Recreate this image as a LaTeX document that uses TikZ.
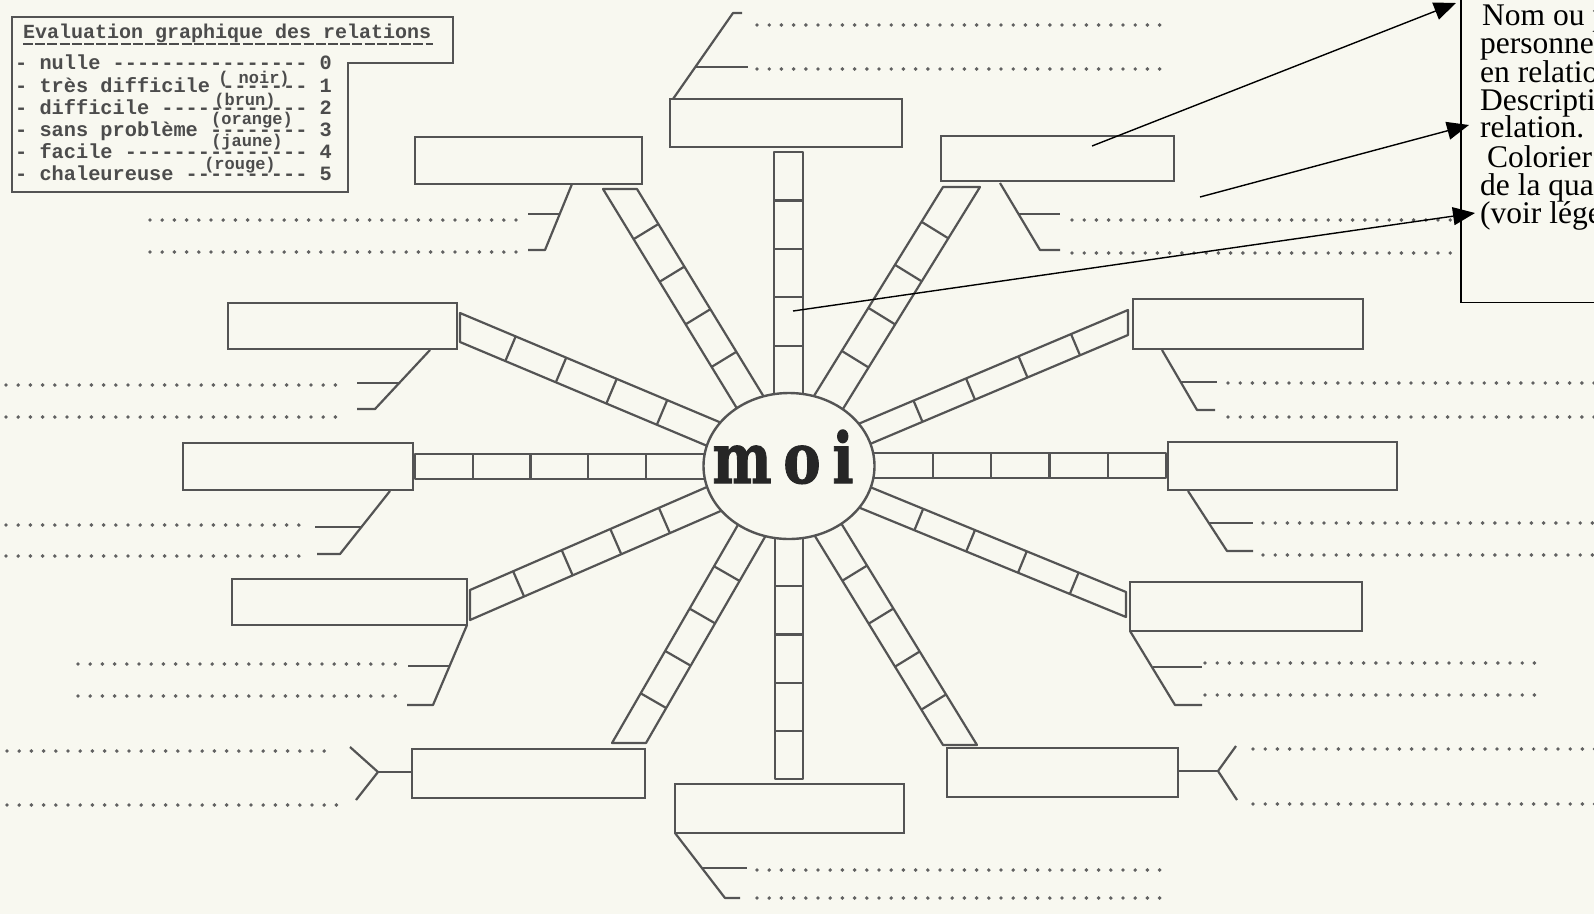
\documentclass[tikz,border=0pt]{standalone}
\usepackage{fontspec}
\setmainfont{Liberation Serif}
\setmonofont{Liberation Mono}
\newfontfamily\moifont{DejaVu Serif}[BoldFont={DejaVu Serif Bold}, BoldFeatures={FakeBold=1.6}]
\usepackage{graphicx}
\usetikzlibrary{calc,arrows.meta,shapes.geometric}
\definecolor{bg}{HTML}{F8F8F0}
\definecolor{ink}{HTML}{545454}
\definecolor{dotc}{HTML}{616161}
\definecolor{tw}{HTML}{4C4C4C}
\tikzset{
 ln/.style={draw=ink, line width=2.2pt, line join=round},
 box/.style={draw=ink, line width=2.2pt, fill=bg, rectangle, inner sep=0pt, outer sep=0pt},
 dotrow/.style={draw=dotc, line width=3.9pt, line cap=round, dash pattern=on 0pt off 12.2pt},
 callarrow/.style={draw=black, line width=1.4pt, -{Triangle[length=22pt,width=18pt]}},
 twline/.style={anchor=base west, inner sep=0pt, text=tw, font=\ttfamily\bfseries\fontsize{20.3}{22}\selectfont},
 twlabel/.style={anchor=base, inner sep=0pt, text=tw, font=\ttfamily\bfseries\fontsize{17}{18}\selectfont},
 notetext/.style={anchor=base west, inner sep=0pt, text=black, font=\fontsize{31.5}{28}\selectfont},
 moiletter/.style={anchor=base, inner sep=0pt, text=black!85, font=\moifont\bfseries\fontsize{70}{72}\selectfont},
}
% #1 name, #2 corner A, #3 corner B, #4 direction, #5 cell length, #6 line length
\newcommand\ladder[6]{%
  \coordinate (#1a) at #2; \coordinate (#1b) at #3;
  \coordinate (#1a2) at ($(#1a)+(#4:#6)$);
  \coordinate (#1b2) at ($(#1b)+(#4:#6)$);
  \draw[ln] (#1a2) -- (#1a) -- (#1b) -- (#1b2);
  \foreach \k in {1,2,3,4}{
    \coordinate (#1p) at ($(#1a)!0.5!(#1b)+(#4:{\k*#5})$);
    \draw[ln] ($(#1a)!(#1p)!(#1a2)$) -- ($(#1b)!(#1p)!(#1b2)$);
  }%
}
\newcommand\rbox[5]{\node[box, minimum width={(#4)-(#2)}, minimum height={(#5)-(#3)}] (#1) at ({((#2)+(#4))/2},{((#3)+(#5))/2}) {};}
\begin{document}
\begin{tikzpicture}[x=1pt,y=-1pt]
\useasboundingbox (0,0) rectangle (1594,914);
\fill[bg] (0,0) rectangle (1594,914);
\clip (0,0) rectangle (1594,914);

% spokes
\ladder{U}{(774,152)}{(803,152)}{90}{48.4}{290}
\ladder{D}{(775,779)}{(803,779)}{-90}{48.2}{290}
\ladder{ULs}{(603,189)}{(637,189)}{58.6}{49.9}{300}
\ladder{URs}{(943,187)}{(980,187)}{121.7}{50.6}{300}
\ladder{LLs}{(612,743)}{(646,743)}{-60}{48.9}{300}
\ladder{LRs}{(943,745)}{(977,745)}{-121.5}{50.4}{300}
\ladder{LUs}{(460,313)}{(460,342)}{22.8}{54.8}{330}
\ladder{HLs}{(415,454)}{(415,479)}{0}{57.7}{350}
\ladder{LDs}{(470,590)}{(470,620)}{-23.5}{53}{320}
\ladder{RUs}{(1128,310)}{(1128,335)}{157.1}{57}{340}
\ladder{HRs}{(1166,453)}{(1166,478)}{180}{58.3}{350}
\ladder{RDs}{(1126,592)}{(1126,617)}{-157.7}{56}{340}

% centre
\node[ellipse, draw=ink, line width=2.4pt, fill=bg, minimum width=171, minimum height=146, inner sep=0pt] (moi) at (789,466) {};
\node[moiletter] (mm) at (742,483) {\scalebox{0.8}[1]{m}};
\node[moiletter] (mo) at (802,483) {\scalebox{0.8}[1]{o}};
\node[moiletter] (mi) at (843,483) {\scalebox{0.8}[1]{i}};

% boxes
\rbox{bT}{670}{99}{902}{147}
\rbox{bUL}{415}{137}{642}{184}
\rbox{bUR}{941}{136}{1174}{181}
\rbox{bLU}{228}{303}{457}{349}
\rbox{bRU}{1133}{299}{1363}{349}
\rbox{bHL}{183}{443}{413}{490}
\rbox{bHR}{1168}{442}{1397}{490}
\rbox{bLD}{232}{579}{467}{625}
\rbox{bRD}{1130}{582}{1362}{631}
\rbox{bLL}{412}{749}{645}{798}
\rbox{bLR}{947}{748}{1178}{797}
\rbox{bD}{675}{784}{904}{833}

% brackets
\draw[ln] (673,99) -- (733,13) -- (742,13); \draw[ln] (695,67) -- (748,67);
\draw[ln] (1000,183) -- (1040,250) -- (1060,250); \draw[ln] (1019,214) -- (1060,214);
\draw[ln] (572,184) -- (545,250) -- (528,250); \draw[ln] (560,214) -- (528,214);
\draw[ln] (430,350) -- (375,409) -- (357,409); \draw[ln] (399,383) -- (357,383);
\draw[ln] (390,491) -- (340,554) -- (317,554); \draw[ln] (361,527) -- (315,527);
\draw[ln] (467,625) -- (433,705) -- (407,705); \draw[ln] (450,666) -- (408,666);
\draw[ln] (412,772) -- (378,772); \draw[ln] (350,747) -- (378,772) -- (356,800);
\draw[ln] (675,833) -- (725,898) -- (740,898); \draw[ln] (702,868) -- (747,868);
\draw[ln] (1178,771) -- (1218,771); \draw[ln] (1236,746) -- (1218,771) -- (1237,800);
\draw[ln] (1162,350) -- (1197,410) -- (1215,410); \draw[ln] (1181,382) -- (1217,382);
\draw[ln] (1188,491) -- (1227,551) -- (1253,551); \draw[ln] (1209,523) -- (1253,523);
\draw[ln] (1130,631) -- (1175,705) -- (1202,705); \draw[ln] (1153,667) -- (1202,667);

% dotted writing lines
\draw[dotrow] (757,25) -- (1160,25); \draw[dotrow] (757,69) -- (1160,69);
\draw[dotrow] (1072,220) -- (1456,220); \draw[dotrow] (1072,253) -- (1456,253);
\draw[dotrow] (150,220) -- (518,220); \draw[dotrow] (150,252) -- (518,252);
\draw[dotrow] (6,385) -- (346,385); \draw[dotrow] (6,417) -- (346,417);
\draw[dotrow] (6,525) -- (302,525); \draw[dotrow] (6,556) -- (302,556);
\draw[dotrow] (78,664) -- (397,664); \draw[dotrow] (78,696) -- (397,696);
\draw[dotrow] (7,751) -- (333,751); \draw[dotrow] (7,805) -- (348,805);
\draw[dotrow] (757,870) -- (1165,870); \draw[dotrow] (757,898) -- (1165,898);
\draw[dotrow] (1253,749) -- (1600,749); \draw[dotrow] (1253,804) -- (1600,804);
\draw[dotrow] (1228,383) -- (1600,383); \draw[dotrow] (1228,417) -- (1600,417);
\draw[dotrow] (1263,523) -- (1600,523); \draw[dotrow] (1263,555) -- (1600,555);
\draw[dotrow] (1205,663) -- (1535,663); \draw[dotrow] (1205,695) -- (1535,695);

% legend
\draw[draw=ink, line width=2.5pt, line join=miter] (12,17) -- (453,17) -- (453,63) -- (348,63) -- (348,192) -- (12,192) -- cycle;
\node[twline, font=\ttfamily\bfseries\fontsize{20}{22}\selectfont] (title) at (23,38) {Evaluation graphique des relations};
\coordinate (ula) at (23,44); \coordinate (ulb) at (433,44);
\draw[draw=tw, line width=1.8pt, dash pattern=on 10pt off 2.2pt] (ula) -- (ulb);
\node[twline] (l0) at (15,69) {- nulle ---------------- 0};
\node[twline] (l1) at (15,92) {- très difficile ------- 1};
\node[twline] (l2) at (15,114) {- difficile ------------ 2};
\node[twline] (l3) at (15,136) {- sans problème -------- 3};
\node[twline] (l4) at (15,158) {- facile --------------- 4};
\node[twline] (l5) at (15,180) {- chaleureuse ---------- 5};
\node[twlabel] (c0) at (254,83) {( noir)};
\node[twlabel] (c1) at (245,105) {(brun)};
\node[twlabel] (c2) at (252,124) {(orange)};
\node[twlabel] (c3) at (247,146) {(jaune)};
\node[twlabel] (c4) at (240,169) {(rouge)};

% callout box
\node[draw=black, line width=1.5pt, fill=bg, minimum width=220, minimum height=330, inner sep=0pt, anchor=south west] (note) at (1460,303) {};
\node[notetext] (n1) at (1482,25) {Nom ou prénom};
\node[notetext] (n2) at (1480,53) {personne};
\node[notetext] (n3) at (1480,82) {en relation};
\node[notetext] (n4) at (1480,110) {Description};
\node[notetext] (n5) at (1480,137) {relation.};
\node[notetext] (n6) at (1487,167) {Colorier};
\node[notetext] (n7) at (1480,195) {de la qualité};
\node[notetext] (n8) at (1480,223) {(voir légende)};

% arrows
\coordinate (a1s) at (1092,146); \coordinate (a1t) at (1456,3);
\coordinate (a2s) at (1200,197); \coordinate (a2t) at (1469,125);
\coordinate (a3s) at (793,311); \coordinate (a3t) at (1475,213);
\draw[callarrow] (a1s) -- (a1t);
\draw[callarrow] (a2s) -- (a2t);
\draw[callarrow] (a3s) -- (a3t);
\end{tikzpicture}
\end{document}
